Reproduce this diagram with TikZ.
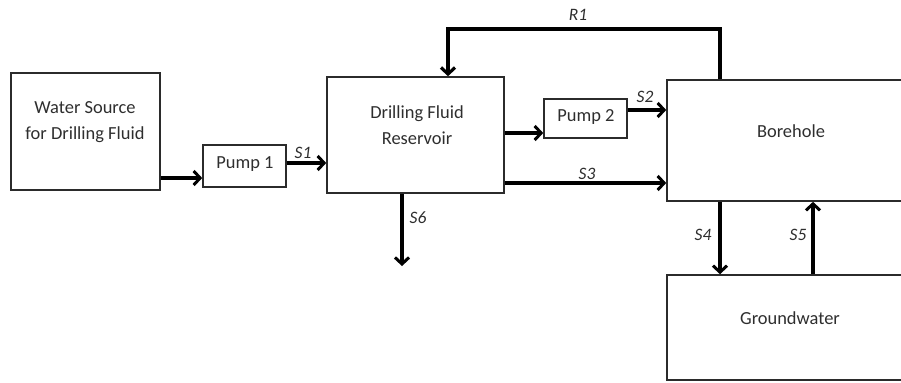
\documentclass[tikz,border=0pt]{standalone}
\usepackage{fontspec}
\setmainfont{Carlito}
\usepackage{tikz}
\usetikzlibrary{arrows.meta,positioning,calc}
\definecolor{boxline}{HTML}{2B2B2B}
\definecolor{textgrey}{HTML}{2E2E2E}

\begin{document}
\begin{tikzpicture}[
  x=1bp, y=-1bp,
  unit/.style={draw=boxline, line width=1.6bp, inner sep=0pt},
  txt/.style={align=center, font=\fontsize{18.5}{26}\selectfont, text=textgrey},
  lbl/.style={font=\fontsize{17.5}{19}\selectfont\itshape, text=textgrey},
  flow/.style={-{Straight Barb[length=6.5bp, width=14bp, line width=3bp]}, line width=3.2bp},
  recycle/.style={-{Straight Barb[length=6.5bp, width=14bp, line width=3.2bp]}, line width=4.4bp}
]
  \useasboundingbox (0,0) rectangle (901,382);
  \clip (0,0) rectangle (901,382);

  % units
  \node[unit, minimum width=149bp, minimum height=117bp] (ws) at (85.5,131.5) {};
  \node[unit, minimum width=83bp, minimum height=42bp] (p1) at (244.5,166) {};
  \node[unit, minimum width=177bp, minimum height=116bp] (res) at (415.5,135) {};
  \node[unit, minimum width=83bp, minimum height=39bp] (p2) at (585.5,118.5) {};
  \node[unit, minimum width=246bp, minimum height=121bp] (bh) at (790,140.5) {};
  \node[unit, minimum width=246bp, minimum height=105bp] (gw) at (790,327.5) {};

  % unit names
  \node[txt] (wstext) at (85,122) {Water Source\\for Drilling Fluid};
  \node[txt] (p1text) at (245,164) {Pump 1};
  \node[txt] (restext) at (417,125.5) {Drilling Fluid\\Reservoir};
  \node[txt] (p2text) at (586,117) {Pump 2};
  \node[txt] (bhtext) at (791,131) {Borehole};
  \node[txt] (gwtext) at (790,318) {Groundwater};

  % streams
  \coordinate (r1top) at (584,29);
  \coordinate (s6end) at (402,266);

  \draw[flow] (ws.east |- 0,178) -- (p1.west |- 0,178);
  \draw[flow] (p1.east |- 0,163) -- (res.west |- 0,163);
  \draw[flow] (res.east |- 0,133) -- (p2.west |- 0,133);
  \draw[flow] (p2.east |- 0,110) -- (bh.west |- 0,110);
  \draw[flow] (res.east |- 0,183) -- (bh.west |- 0,183);
  \draw[flow] (bh.south -| 720,0) -- (gw.north -| 720,0);
  \draw[flow] (gw.north -| 813,0) -- (bh.south -| 813,0);
  \draw[flow] (res.south -| 402,0) -- (s6end);
  \draw[recycle] (bh.north -| 720,0) |- (r1top) -| (res.north -| 448,0);

  % stream labels
  \node[lbl] (s1) at (303,153) {S1};
  \node[lbl] (s2) at (645,97) {S2};
  \node[lbl] (s3) at (587,174) {S3};
  \node[lbl] (s4) at (703,235) {S4};
  \node[lbl] (s5) at (798,235) {S5};
  \node[lbl] (s6) at (418,218) {S6};
  \node[lbl] (r1) at (578,15) {R1};
\end{tikzpicture}
\end{document}
